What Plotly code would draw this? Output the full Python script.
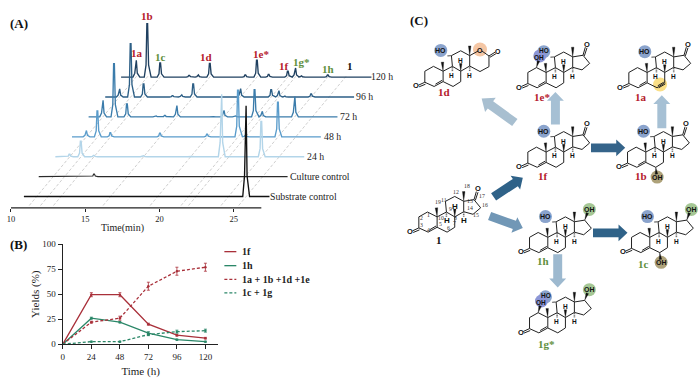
import plotly.graph_objects as go

# ---------- Panel A data: retention times (min) and peak heights per time point
PEAK_NAMES = ["1a", "1b", "1c", "x1", "x2", "1d", "x3", "1e", "x4", "1f", "1g", "x5", "1h"]
RT = [11.70, 12.46, 13.33, 15.28, 15.88, 16.67, 19.06, 19.84, 20.63, 21.92, 22.42, 22.82, 24.61]
H_120 = [18, 57, 15, 1.7, 2.3, 14.7, 2.3, 18, 2.7, 6.3, 9.7, 1.3, 2.3]
H_96 = [8.7, 57, 14, 1.3, 2.3, 14, 0.3, 9, 0.5, 7.7, 6.7, 1, 3.3]
H_72 = [17.7, 57, 14, 1, 1.7, 12, 0.7, 7, 1, 29, 6, 0.3, 21.7]
H_48 = [6.7, 27.7, 4.3, 0, 0, 4, 0, 2.7, 0, 50, 2, 0, 37]
H_24 = [2.7, 16.7, 1.3, 0, 0, 1, 0, 0.7, 0, 66.7, 0, 0, 37.7]
RT_CULTURE = [13.1, 14.47]
H_CULTURE = [0.5, 2.7]
RT_SUBSTRATE = [25.8]
H_SUBSTRATE = [97]
TIME_TICKS = [10, 15, 20, 25]

# ---------- Panel B data
HOURS = [0, 24, 48, 72, 96, 120]
Y_1F = [0, 49.5, 49.5, 20, 9, 6]
E_1F = [0, 2, 2, 1, 1, 0.8]
Y_1H = [0, 26, 22, 11, 4.5, 2.5]
E_1H = [0, 1, 0.8, 1.5, 0.6, 0.5]
Y_SUM = [0, 22, 26, 58, 73, 77]
E_SUM = [0, 1, 2, 4, 4, 4]
Y_CG = [0, 2.5, 2.5, 9.5, 12.5, 13.5]
E_CG = [0, 0.5, 0.5, 1, 1.5, 1.5]

SERIF = "Liberation Serif"
SANS = "Liberation Sans"
RED = "#b5202c"
GREEN = "#5f8f3e"

fig = go.Figure()
ann = []


def label(x, y, text, size=11, color="#111", bold=True, family=SERIF, anchor="center"):
    if anchor == "left":
        x -= 2.5
    ann.append(dict(x=x, y=y, xref="x3", yref="y3", text=f"<b>{text}</b>" if bold else text,
                    showarrow=False, xanchor=anchor, yanchor="middle",
                    font=dict(family=family, size=size, color=color)))


# ---------- Panel A geometry (time axis & stacked offset)
STEP_T = 1.1186      # horizontal shift per stacked trace, minutes
STEP_Y = 20.45       # vertical shift per stacked trace
BASE_Y = 11.6
T_AT_0 = 10 - 9 / 14.9
T_AT_700 = 10 + 691 / 14.9
Y_AXIS_PX = 208.3


def chromatogram(times, heights, level, start_t, end_t, color, width=1.35):
    off = level * STEP_T
    base = BASE_Y + level * STEP_Y
    xs, ys = [start_t + off], [base]
    w = 0.2
    for t, h in sorted(zip(times, heights)):
        if h <= 0:
            continue
        xs += [t + off - w, t + off - 0.08, t + off - 0.025, t + off + 0.025, t + off + 0.09, t + off + 0.26]
        ys += [base, base + 0.22 * h, base + 0.96 * h, base + 0.96 * h, base + 0.22 * h, base]
    xs.append(end_t + off)
    ys.append(base)
    fig.add_trace(go.Scatter(x=xs, y=ys, mode="lines", line=dict(color=color, width=width),
                             xaxis="x", yaxis="y", hoverinfo="skip"))


# dashed guide lines
for t in RT[:3] + [RT[5], RT[7], RT[9], RT[10], RT[12]] + RT_SUBSTRATE:
    fig.add_trace(go.Scatter(
        x=[t - 0.42 * STEP_T, t + 6.1 * STEP_T],
        y=[BASE_Y - 0.45 * STEP_Y, BASE_Y + 6.1 * STEP_Y],
        mode="lines", line=dict(color="#b9b9b9", width=0.7, dash="3px,2px"),
        xaxis="x", yaxis="y", hoverinfo="skip"))

# each trace runs to its own label
chromatogram(RT, H_120, 6, 10.7, 27.55, "#1f4060")
chromatogram(RT, H_96, 5, 10.75, 27.5, "#2d5f86")
chromatogram(RT, H_72, 4, 10.75, 27.5, "#3b7cab")
chromatogram(RT, H_48, 3, 10.75, 27.5, "#5a9ccb")
chromatogram(RT, H_24, 2, 10.75, 27.5, "#b3d5e9", width=1.4)
chromatogram(RT_CULTURE, H_CULTURE, 1, 10.75, 27.5, "#2a2a2a", width=1.15)
chromatogram(RT_SUBSTRATE, H_SUBSTRATE, 0, 10.87, 27.4, "#111111", width=1.35)
# time-axis line
fig.add_trace(go.Scatter(x=[10, 26.85], y=[0, 0], mode="lines",
                         line=dict(color="#222", width=1.3), xaxis="x", yaxis="y", hoverinfo="skip"))

for x, y, txt, col in [
    (145, 11, "1b", RED), (135, 49.3, "1a", RED), (159, 53.3, "1c", GREEN), (205, 53.3, "1d", RED),
    (260, 50, "1e*", RED), (283.3, 62.3, "1f", RED), (300, 59, "1g*", GREEN), (327.3, 66, "1h", GREEN),
    (349.3, 62.3, "1", "#111")]:
    label(x, y, txt, 11, col)
for x, y, txt in [(371, 73, "120 h"), (356, 94, "96 h"), (339, 114, "72 h"), (323, 135, "48 h"),
                  (306, 155.5, "24 h"), (289, 176, "Culture control"), (269.3, 196.5, "Substrate control")]:
    label(x, y, txt, 9.8, "#222", bold=False, anchor="left")
label(121, 228.5, "Time(min)", 10, "#222", bold=False)
label(17, 19, "(A)", 13)
label(17, 245.7, "(B)", 13)
label(418, 16, "(C)", 13)

# ---------- Panel B
for ys, es, col, dash in [(Y_1F, E_1F, "#a9303a", "solid"), (Y_1H, E_1H, "#2b8768", "solid"),
                          (Y_SUM, E_SUM, "#a9303a", "3px,2px"), (Y_CG, E_CG, "#2b8768", "3px,2px")]:
    fig.add_trace(go.Scatter(x=HOURS, y=ys, mode="lines+markers", xaxis="x2", yaxis="y2",
                             line=dict(color=col, width=1.3, dash=dash), marker=dict(size=2.5, color=col),
                             error_y=dict(type="data", array=es, color=col, thickness=0.8, width=1.5),
                             hoverinfo="skip"))
for y, txt, col, dash in [(253.3, "1f", "#a9303a", "solid"), (267.7, "1h", "#2b8768", "solid"),
                          (281.7, "1a + 1b +1d +1e", "#a9303a", "3px,2px"), (295.7, "1c + 1g", "#2b8768", "3px,2px")]:
    fig.add_trace(go.Scatter(x=[223, 235], y=[y, y], mode="lines", xaxis="x3", yaxis="y3",
                             line=dict(color=col, width=1.3, dash=dash), hoverinfo="skip"))
    label(241.5, y, txt, 10, "#222", anchor="left")

# ---------- Panel C: structures (template coordinates are 1/3 px)
C = dict(C1=(78, 93), C2=(52, 108), C3=(52, 142), C4=(80, 155), C5=(107, 140), C6=(137, 155), C7=(160, 140),
         C8=(160, 108), C9=(135, 93), C10=(107, 108), C11=(132, 60), C12=(160, 45), C13=(187, 60), C14=(187, 92),
         C15=(215, 100), C16=(238, 80), C17=(218, 55))
RINGS = ["C1 C2", "C2 C3", "C3 C4", "C4 C5", "C5 C10", "C10 C1", "C5 C6", "C6 C7", "C7 C8", "C8 C9", "C9 C10",
         "C9 C11", "C11 C12", "C12 C13", "C13 C14", "C14 C8"]
DRING = ["C14 C15", "C15 C16", "C16 C17", "C17 C13"]
segx, segy, wedges, hash_x, hash_y, circles = [], [], [], [], [], []


def P(dx, dy, p):
    return 510 + dx + p[0] / 3, 115 + dy + p[1] / 3


def seg(dx, dy, a, b):
    ax, ay = P(dx, dy, a)
    bx, by = P(dx, dy, b)
    segx.extend([ax, bx, None])
    segy.extend([ay, by, None])


def wedge(dx, dy, a, b, w=2.6):
    ax, ay = P(dx, dy, a)
    bx, by = P(dx, dy, b)
    L = ((bx - ax) ** 2 + (by - ay) ** 2) ** 0.5
    nx, ny = -(by - ay) / L * w / 2, (bx - ax) / L * w / 2
    wedges.extend([(ax, ay), (bx + nx, by + ny), (bx - nx, by - ny)])


def hashes(dx, dy, a, b, n=3):
    ax, ay = P(dx, dy, a)
    bx, by = P(dx, dy, b)
    for i in range(n):
        f = (i + 0.7) / (n + 0.5)
        mx, my = ax + (bx - ax) * f, ay + (by - ay) * f
        hash_x.extend([mx - 0.8, mx + 0.8, None])
        hash_y.extend([my, my, None])


def atom(dx, dy, p, txt, size=7):
    x, y = P(dx, dy, p)
    label(x, y, txt, size, "#111", bold=True, family=SANS)


def circle(dx, dy, p, col, size=13):
    x, y = P(dx, dy, p)
    circles.append((x, y, col, size))


HO_BLUE, OH_PURPLE, OH_GREEN, OH_KHAKI = "#8aa3cc", "#8c96d6", "#a5c795", "#aea27a"


def steroid(dx, dy, d_ring="ketone", ho11=True, oh1=False, oh6=False, ene6=False, h_size=6.5, h9_x=133):
    for s in RINGS:
        a, b = s.split()
        seg(dx, dy, C[a], C[b])
    # C=O at 3 and C=C at 4,5
    seg(dx, dy, (52, 142), (33, 151))
    seg(dx, dy, (54, 148), (35, 156))
    seg(dx, dy, (84, 148), (104, 136))
    atom(dx, dy, (25, 153), "O", 7.5)
    # methyls, ring-junction H
    wedge(dx, dy, C["C10"], (105, 80))
    wedge(dx, dy, C["C13"], (187, 30))
    wedge(dx, dy, C["C8"], (160, 84))
    hashes(dx, dy, C["C9"], (135, 110))
    hashes(dx, dy, C["C14"], (187, 110))
    atom(dx, dy, (160, 75), "H", h_size)
    atom(dx, dy, (h9_x, 120), "H", h_size)
    atom(dx, dy, (187, 120), "H", h_size)
    if ho11:
        circle(dx, dy, (100, 44), HO_BLUE)
        hashes(dx, dy, C["C11"], (119, 61))
        atom(dx, dy, (102, 40) if oh1 else (99, 44), "HO", 6.5 if oh1 else 7)
    if d_ring == "lactone":
        circle(dx, dy, (218, 41), "#f4c6a4", 14)
        for a, b in [((187, 60), (212, 46)), ((224, 46), (245, 61)), ((245, 61), (245, 94)), ((245, 94), (218, 109)),
                     ((218, 109), (187, 92)), ((245, 61), (264, 49)), ((248, 65), (266, 54))]:
            seg(dx, dy, a, b)
        atom(dx, dy, (218, 44), "O")
        atom(dx, dy, (272, 47), "O")
    else:
        for s in DRING:
            a, b = s.split()
            seg(dx, dy, C[a], C[b])
        if d_ring == "ketone":
            seg(dx, dy, C["C17"], (225, 30))
            seg(dx, dy, (222, 57), (230, 32))
            atom(dx, dy, (229, 21), "O", 7.5)
        else:
            circle(dx, dy, (232, 22), OH_GREEN)
            wedge(dx, dy, C["C17"], (226, 33))
            atom(dx, dy, (233, 22), "OH")
    if oh1:
        circle(dx, dy, (88, 57), OH_PURPLE)
        wedge(dx, dy, C["C1"], (84, 72))
        atom(dx, dy, (86, 63), "OH", 6.5)
    if oh6:
        circle(dx, dy, (141, 185), OH_KHAKI)
        wedge(dx, dy, C["C6"], (139, 176))
        atom(dx, dy, (141, 186), "OH")
    if ene6:
        circle(dx, dy, (146, 145), "#fadf87", 14)
        seg(dx, dy, (139, 149), (157, 138))
        seg(dx, dy, (142, 155), (162, 143))


steroid(-103.3, -83, "lactone")            # 1d
steroid(0, -81.7, oh1=True)                # 1e*
steroid(101.3, -81.7, ene6=True)           # 1a
steroid(0, 0)                              # 1f
steroid(100, 0, oh6=True)                  # 1b
steroid(-109.3, 66.6, ho11=False, h_size=8, h9_x=138)   # 1
steroid(1.7, 87.6, "ol")                   # 1h
steroid(104, 87.6, "ol", oh6=True)         # 1c
steroid(1.7, 170, "ol", oh1=True)          # 1g*

for x, y, col, size in circles:
    fig.add_trace(go.Scatter(x=[x], y=[y], mode="markers", xaxis="x3", yaxis="y3", hoverinfo="skip",
                             marker=dict(size=size, color=col, line=dict(width=0))))
fig.add_trace(go.Scatter(x=segx, y=segy, mode="lines", line=dict(color="#222", width=1), xaxis="x3", yaxis="y3",
                         hoverinfo="skip"))
fig.add_trace(go.Scatter(x=hash_x, y=hash_y, mode="lines", line=dict(color="#222", width=0.7), xaxis="x3", yaxis="y3",
                         hoverinfo="skip"))
wx, wy = [], []
for i in range(0, len(wedges), 3):
    tri = wedges[i:i + 3]
    wx += [p[0] for p in tri] + [tri[0][0], None]
    wy += [p[1] for p in tri] + [tri[0][1], None]
fig.add_trace(go.Scatter(x=wx, y=wy, mode="lines", fill="toself", fillcolor="#111", line=dict(color="#111", width=0.3),
                         xaxis="x3", yaxis="y3", hoverinfo="skip"))

# atom numbering of substrate 1 (zoom coordinates relative to its own box)
NUM = [("1", 83, 122), ("2", 62, 130), ("3", 63, 152), ("4", 82, 168), ("5", 120, 150), ("6", 142, 163),
       ("7", 162, 148), ("8", 164, 130), ("9", 148, 103), ("10", 120, 130), ("11", 130, 76), ("12", 167, 52),
       ("13", 207, 80), ("14", 207, 100), ("15", 227, 123), ("16", 254, 90), ("17", 244, 63), ("18", 199, 33),
       ("19", 112, 82)]
for n, zx, zy in NUM:
    label(400 + zx / 3, 175 + zy / 3, n, 5.8, "#333", bold=False)

for x, y, t, col in [(443.3, 89.3, "1d", RED), (541.7, 94.3, "1e*", RED), (640.7, 94.3, "1a", RED),
                     (542.3, 176, "1f", RED), (640.7, 176, "1b", RED), (438.3, 241, "1", "#111"),
                     (542.3, 262.7, "1h", GREEN), (643.3, 266, "1c", GREEN), (545.7, 347.7, "1g*", GREEN)]:
    label(x, y, t, 11, col)

# block arrows: tail x, tail y, tip x, tip y, colour, shaft width, head width, head length
ARROWS = [(514.3, 120.7, 481, 96, "#a8bfd0", 9, 18, 11), (555, 122.7, 555, 89.3, "#a6c0d4", 9, 17, 9),
          (661.7, 126.7, 661.7, 92.7, "#a6c0d4", 9, 17, 9), (590.7, 146.7, 625, 146.7, "#35648a", 9, 17, 9),
          (493, 197, 522.3, 177.3, "#2f6288", 9, 17, 9), (489, 216.7, 522.3, 229, "#7197b6", 9, 17, 9),
          (592.7, 234, 627.3, 234, "#2f6288", 9, 17, 9), (557.3, 256, 557.3, 290, "#9db9cf", 9, 17, 9)]
for x0, y0, x1, y1, col, sw, hw, hl in ARROWS:
    L = ((x1 - x0) ** 2 + (y1 - y0) ** 2) ** 0.5
    ux, uy = (x1 - x0) / L, (y1 - y0) / L
    nx, ny = -uy, ux
    bx, by = x1 - ux * hl, y1 - uy * hl
    pts = [(x0 + nx * sw / 2, y0 + ny * sw / 2), (bx + nx * sw / 2, by + ny * sw / 2), (bx + nx * hw / 2, by + ny * hw / 2),
           (x1, y1), (bx - nx * hw / 2, by - ny * hw / 2), (bx - nx * sw / 2, by - ny * sw / 2),
           (x0 - nx * sw / 2, y0 - ny * sw / 2), (x0 + nx * sw / 2, y0 + ny * sw / 2)]
    fig.add_trace(go.Scatter(x=[p[0] for p in pts], y=[p[1] for p in pts], mode="lines", fill="toself", fillcolor=col,
                             line=dict(width=0, color=col), xaxis="x3", yaxis="y3", hoverinfo="skip"))

axis_font = dict(family=SERIF, size=9, color="#222")
fig.update_layout(
    width=700, height=381, autosize=False, showlegend=False, paper_bgcolor="white", plot_bgcolor="rgba(0,0,0,0)",
    margin=dict(l=0, r=0, t=0, b=0), annotations=ann,
    xaxis=dict(domain=[0, 1], range=[T_AT_0, T_AT_700], anchor="free", position=(381 - Y_AXIS_PX) / 381,
               showgrid=False, zeroline=False, showline=False, tickvals=TIME_TICKS, ticks="outside", ticklen=3,
               tickwidth=1, tickcolor="#222", tickfont=dict(family=SERIF, size=8.5, color="#222"), tickprefix="<b>",
               ticksuffix="</b>"),
    yaxis=dict(domain=[0, 1], range=[Y_AXIS_PX - 381, Y_AXIS_PX], anchor="x", visible=False),
    xaxis2=dict(domain=[61 / 700, 217 / 700], range=[0, 120 * 156 / 143], anchor="y2", tickvals=HOURS,
                showgrid=False, zeroline=False, showline=True, linecolor="#222", linewidth=1.4, ticks="outside",
                ticklen=4, tickwidth=1.1, tickcolor="#222", tickfont=axis_font,
                title=dict(text="Time (h)", font=dict(family=SERIF, size=11, color="#222"), standoff=6)),
    yaxis2=dict(domain=[32.7 / 381, 135.3 / 381], range=[0, 100], anchor="x2", tickvals=[0, 25, 50, 75, 100],
                showgrid=False, zeroline=False, showline=True, linecolor="#222", linewidth=1.4, ticks="outside",
                ticklen=4, tickwidth=1.1, tickcolor="#222", tickfont=axis_font,
                title=dict(text="Yields (%)", font=dict(family=SERIF, size=11, color="#222"), standoff=0)),
    xaxis3=dict(domain=[0, 1], range=[0, 700], anchor="y3", overlaying="x", visible=False),
    yaxis3=dict(domain=[0, 1], range=[381, 0], anchor="x3", overlaying="y", visible=False),
)

fig.write_html("out.html", config=dict(displayModeBar=False),
               post_script="document.body.style.margin='0';")
